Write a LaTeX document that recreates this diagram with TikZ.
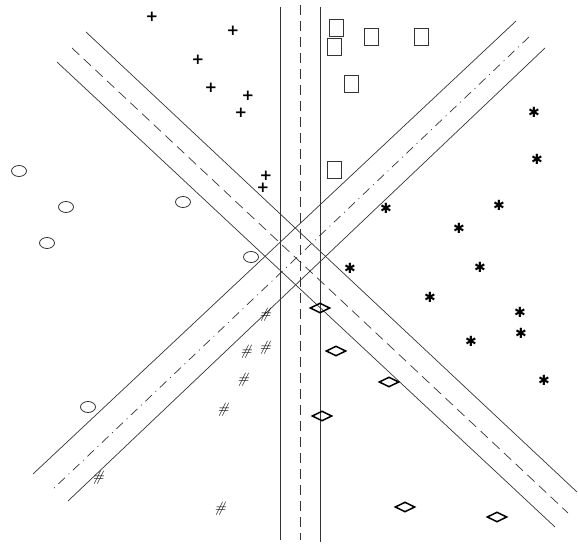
\documentclass[tikz,border=0pt]{standalone}
\usepackage{tikz}
\usepackage{fontspec}
\newfontfamily\markfont{DejaVu Sans}
\usetikzlibrary{shapes.geometric}
\tikzset{
    margin/.style={black!80, line width=0.7pt},
    centre/.style={black!80, line width=0.7pt, dash pattern=on 10pt off 6pt},
    centredot/.style={black!80, line width=0.7pt, dash pattern=on 9pt off 5pt on 1pt off 5pt},
    plusmark/.style={font=\markfont\bfseries\fontsize{15}{15}\selectfont, inner sep=0pt},
    starmark/.style={font=\markfont\fontsize{14}{14}\selectfont, inner sep=0pt},
    hashmark/.style={font=\fontsize{15}{15}\selectfont\itshape, inner sep=0pt},
    boxmark/.style={draw, black!80, line width=0.8pt, minimum width=14pt, minimum height=17pt, inner sep=0pt},
    ringmark/.style={ellipse, draw, black!80, line width=0.8pt, minimum width=15pt, minimum height=11pt, inner sep=0pt},
    kitemark/.style={diamond, draw, line width=1.5pt, aspect=2, minimum width=20pt, minimum height=10pt, inner sep=0pt}
}

\begin{document}
\begin{tikzpicture}[x=1pt, y=-1pt]
    \useasboundingbox (0,0) rectangle (578,548);
    % vertical band
    \draw[margin] (280,7) -- (280,540);
    \draw[centre] (300,5) -- (300,540);
    \draw[margin] (320,7) -- (320,542);
    % falling band
    \draw[margin] (86,32) -- (577,492);
    \draw[centre] (72,48) -- (568,513);
    \draw[margin] (57,62) -- (555,527);
    % rising band
    \draw[margin] (516,21) -- (33,474);
    \draw[centredot] (529,37) -- (52,490);
    \draw[margin] (545,48) -- (68,501);
    % classes
    \foreach \x/\y [count=\i] in {152/17, 233/31, 198/60, 211/88, 248/96, 241/113, 266/176, 263/188}
        \node[plusmark] (plus\i) at (\x,\y) {+};
    \foreach \x/\y [count=\i] in {336/28, 334/47, 371/37, 421/37, 351/84, 334/170}
        \node[boxmark] (box\i) at (\x,\y) {};
    \foreach \x/\y [count=\i] in {19/171, 66/207, 47/243, 183/202, 251/257, 88/407}
        \node[ringmark] (ring\i) at (\x,\y) {};
    \foreach \x/\y [count=\i] in {534/112, 537/159, 499/205, 459/228, 386/208, 350/268, 480/267,
                                  430/297, 520/312, 521/333, 471/341, 544/380}
        \node[starmark] (star\i) at (\x,\y) {✱};
    \foreach \x/\y [count=\i] in {320/308, 336/351, 389/382, 322/416, 405/507, 497/517}
        \node[kitemark] (kite\i) at (\x,\y) {};
    \foreach \x/\y [count=\i] in {265/315, 246/352, 265/348, 243/380, 223/410, 98/478, 220/509}
        \node[hashmark] (hash\i) at (\x,\y) {\#};
\end{tikzpicture}
\end{document}
